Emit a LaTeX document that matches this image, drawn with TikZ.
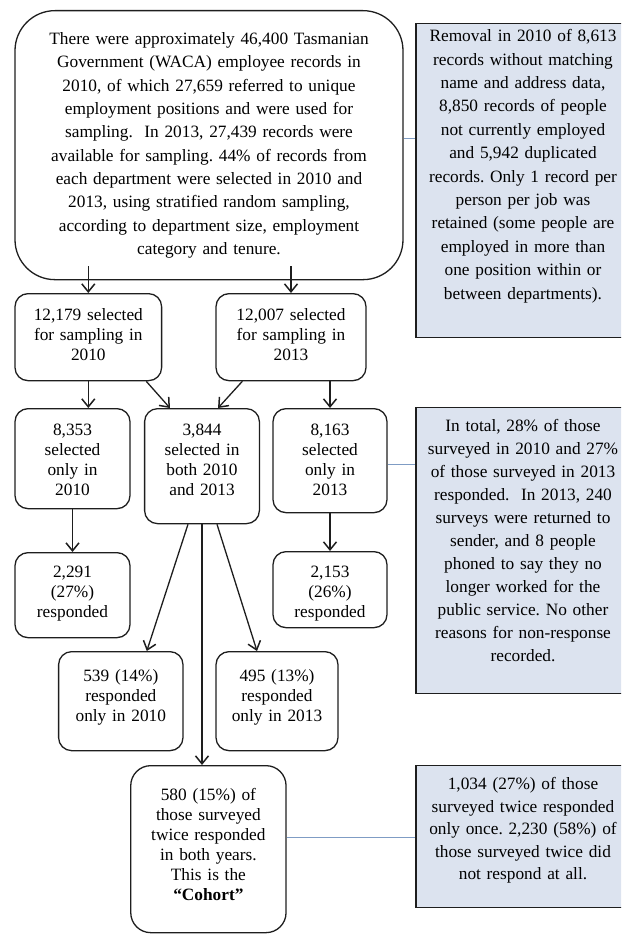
\documentclass[tikz,border=0pt]{standalone}
\usepackage{fontspec}
\setmainfont{Liberation Serif}
\frenchspacing
\definecolor{notefill}{HTML}{DCE3EF}
\definecolor{linkblue}{HTML}{7F9CC4}
\definecolor{edge}{HTML}{1E1E1E}
\usetikzlibrary{positioning, calc, arrows.meta}

\begin{document}
\begin{tikzpicture}[
    x=1pt, y=-1pt,
    % Node styles
    flow box/.style={
        draw=edge,
        line width=1.3pt,
        rounded corners=13pt,
        anchor=north,
        inner sep=0pt,
        align=center,
        font=\fontsize{17.3}{20}\selectfont
    },
    note box/.style={
        draw=edge,
        fill=notefill,
        line width=1.3pt,
        anchor=north,
        inner sep=0pt,
        align=center,
        font=\fontsize{17.3}{23}\selectfont
    },
    box size/.style n args={3}{
        text width=#1pt,
        text height=#2pt,
        text depth=#3pt
    },
    flow arrow/.style={
        draw=edge,
        line width=1.3pt,
        -{Straight Barb[length=8pt, width=13pt, line width=1.5pt]}
    },
    note link/.style={
        draw=linkblue,
        line width=0.9pt
    }
]

% Page frame (right notes run off the edge)
\useasboundingbox (0,0) rectangle (621,936);
\clip (0,0) rectangle (621,936);

% Source records
\node[flow box, box size={388}{34}{235}, rounded corners=40pt,
      font=\fontsize{17.3}{23.3}\selectfont] (top) at (209,10)
    {There were approximately 46,400 Tasmanian\\
     Government (WACA) employee records in\\
     2010, of which 27,659 referred to unique\\
     employment positions and were used for\\
     sampling.\ \ In 2013, 27,439 records were\\
     available for sampling. 44\% of records from\\
     each department were selected in 2010 and\\
     2013, using stratified random sampling,\\
     according to department size, employment\\
     category and tenure.};

% Selection
\node[flow box, box size={146.6}{27}{60}] (sel10) at (88.3,293)
    {12,179 selected\\ for sampling in\\ 2010};
\node[flow box, box size={150}{27}{60}] (sel13) at (291,293)
    {12,007 selected\\ for sampling in\\ 2013};

\node[flow box, box size={115}{27}{73}] (only10) at (72.5,408)
    {8,353\\ selected\\ only in\\ 2010};
\node[flow box, box size={114.8}{27}{88}] (both) at (202,408)
    {3,844\\ selected in\\ both 2010\\ and 2013};
\node[flow box, box size={114}{27}{77}] (only13) at (330,408)
    {8,163\\ selected\\ only in\\ 2013};

% Responses
\node[flow box, box size={115}{24.5}{60.5}] (resp10) at (72.5,552)
    {2,291\\ (27\%)\\ responded};
\node[flow box, box size={114}{25.5}{50.5}] (resp13) at (330,551)
    {2,153\\ (26\%)\\ responded};

\node[flow box, box size={124.4}{30}{69}] (once10) at (120.8,651)
    {539 (14\%)\\ responded\\ only in 2010};
\node[flow box, box size={122}{30}{69}] (once13) at (277,651)
    {495 (13\%)\\ responded\\ only in 2013};

\node[flow box, box size={155.3}{35}{132}, rounded corners=20pt] (cohort) at (208.4,765)
    {580 (15\%) of\\ those surveyed\\ twice responded\\ in both years.\\ This is the\\
     \textbf{“Cohort”}};

% Side notes
\node[note box, box size={214}{18}{296}, font=\fontsize{17.3}{23.4}\selectfont] (note1) at (523,23)
    {Removal in 2010 of 8,613\\ records without matching\\ name and address data,\\
     8,850 records of people\\ not currently employed\\ and 5,942 duplicated\\
     records. Only 1 record per\\ person per job was\\ retained (some people are\\
     employed in more than\\ one position within or\\ between departments).};
\node[note box, box size={214}{24}{262}] (note2) at (523,407)
    {In total, 28\% of those\\ surveyed in 2010 and 27\%\\ of those surveyed in 2013\\
     responded.\ \ In 2013, 240\\ surveys were returned to\\ sender, and 8 people\\
     phoned to say they no\\ longer worked for the\\ public service. No other\\
     reasons for non-response\\ recorded.};
\node[note box, box size={214}{24}{118}, font=\fontsize{17.3}{22.5}\selectfont] (note3) at (523,765)
    {1,034 (27\%) of those\\ surveyed twice responded\\ only once. 2,230 (58\%) of\\
     those surveyed twice did\\ not respond at all.};

% Arrows
\draw[flow arrow] ([yshift=14pt]top.south -| sel10.north) -- (sel10.north);
\draw[flow arrow] ([yshift=14pt]top.south -| sel13.north) -- (sel13.north);
\draw[flow arrow] (sel10.south) -- (sel10.south |- only10.north);
\draw[flow arrow] ([xshift=-16pt]sel10.south east) -- ([xshift=26pt]both.north west);
\draw[flow arrow] ([xshift=27pt]sel13.south west) -- ([xshift=-42pt]both.north east);
\draw[flow arrow] (only13.north |- sel13.south) -- (only13.north);
\draw[flow arrow] (only10.south) -- (resp10.north);
\draw[flow arrow] (only13.south) -- (resp13.north);
\draw[flow arrow] ([xshift=-14pt]both.south) -- ([xshift=26pt]once10.north);
\draw[flow arrow] ([xshift=15pt]both.south) -- ([xshift=-20pt]once13.north);
\draw[flow arrow] (both.south) -- (both.south |- cohort.north);

% Note links
\draw[note link] ([yshift=7pt]top.east) -- ([yshift=7pt]top.east -| note1.west);
\draw[note link] ([yshift=-4pt]only13.east) -- ([yshift=-4pt]only13.east -| note2.west);
\draw[note link] ([yshift=12pt]cohort.east) -- ([yshift=12pt]cohort.east -| note3.west);

\end{tikzpicture}
\end{document}
